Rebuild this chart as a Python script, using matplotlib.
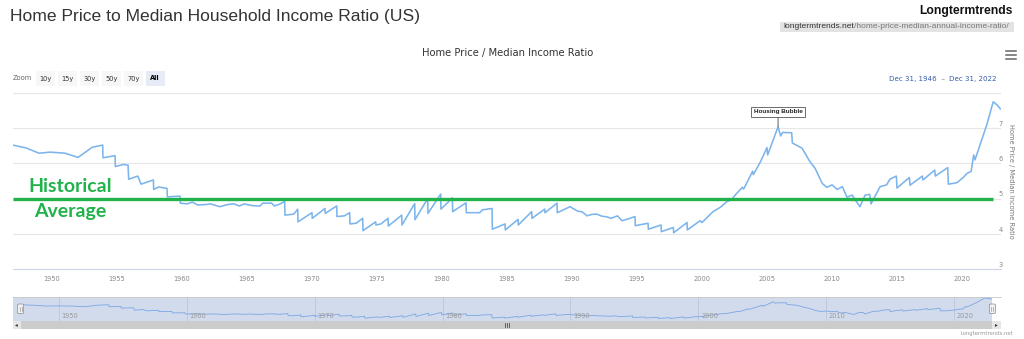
import matplotlib
matplotlib.use("Agg")
from matplotlib import pyplot as plt
from matplotlib.patches import Rectangle, FancyBboxPatch
from matplotlib.lines import Line2D
import numpy as np

W, H = 1024, 339

# home price / median income ratio, decimal years
years = [
    1947.0, 1948.0, 1949.0, 1949.85, 1951.0, 1952.0, 1953.1, 1953.9, 1953.92, 1954.85,
    1954.87, 1955.5, 1955.85, 1955.9, 1956.3, 1956.6, 1956.85, 1957.8, 1957.82, 1958.2,
    1958.85, 1958.87, 1959.85, 1959.87, 1960.4, 1960.8, 1961.2, 1961.8, 1962.2, 1962.9,
    1963.5, 1964.0, 1964.4, 1964.8, 1965.4, 1966.0, 1966.2, 1966.9, 1967.1, 1967.5,
    1967.9, 1967.92, 1968.6, 1968.9, 1968.92, 1970.0, 1970.02, 1971.0, 1971.02, 1971.9,
    1971.92, 1972.5, 1972.9, 1972.92, 1973.4, 1973.9, 1973.92, 1974.9, 1974.92, 1975.3,
    1975.85, 1975.87, 1976.9, 1976.92, 1977.9, 1977.92, 1978.9, 1978.92, 1979.9, 1979.92,
    1980.8, 1980.82, 1981.85, 1981.87, 1982.9, 1983.1, 1983.85, 1983.87, 1984.85, 1984.87,
    1985.85, 1985.87, 1986.9, 1986.92, 1987.9, 1987.92, 1988.85, 1988.87, 1989.85, 1990.4,
    1990.8, 1991.15, 1991.5, 1991.9, 1992.3, 1992.7, 1993.0, 1993.5, 1993.85, 1994.45,
    1994.85, 1994.87, 1995.85, 1995.87, 1996.85, 1996.87, 1997.8, 1997.82, 1998.85, 1998.87,
    1999.85, 2000.0, 2000.5, 2000.85, 2001.4, 2001.9, 2002.3, 2002.6, 2003.1, 2003.2,
    2003.9, 2003.95, 2004.5, 2005.0, 2005.05, 2005.85, 2006.05, 2006.2, 2006.9, 2006.95,
    2007.7, 2008.3, 2008.7, 2009.25, 2009.6, 2010.0, 2010.4, 2010.8, 2011.15, 2011.55,
    2011.75, 2012.15, 2012.55, 2012.9, 2013.0, 2013.7, 2014.2, 2014.45, 2014.95, 2015.0,
    2015.95, 2016.0, 2016.95, 2017.0, 2017.9, 2017.95, 2018.9, 2018.95, 2019.6, 2020.1,
    2020.4, 2020.7, 2020.9, 2021.0, 2021.55, 2021.9, 2022.4, 2022.7, 2022.95,
]
ratio = [
    6.52, 6.44, 6.29, 6.32, 6.29, 6.17, 6.46, 6.52, 6.16, 6.22,
    5.91, 5.97, 5.95, 5.55, 5.60, 5.64, 5.41, 5.53, 5.26, 5.33,
    5.29, 5.05, 5.07, 4.87, 4.85, 4.90, 4.82, 4.83, 4.85, 4.77,
    4.83, 4.85, 4.79, 4.85, 4.80, 4.79, 4.87, 4.87, 4.79, 4.84,
    4.92, 4.53, 4.56, 4.70, 4.34, 4.60, 4.44, 4.72, 4.58, 4.79,
    4.49, 4.51, 4.60, 4.28, 4.30, 4.44, 4.09, 4.34, 4.25, 4.28,
    4.44, 4.22, 4.53, 4.25, 4.86, 4.40, 5.00, 4.58, 5.13, 4.70,
    5.02, 4.63, 4.88, 4.60, 4.60, 4.68, 4.72, 4.13, 4.28, 4.11,
    4.41, 4.25, 4.63, 4.44, 4.70, 4.60, 4.87, 4.60, 4.77, 4.65,
    4.62, 4.51, 4.55, 4.56, 4.50, 4.48, 4.44, 4.51, 4.37, 4.44,
    4.49, 4.23, 4.30, 4.13, 4.25, 4.06, 4.18, 4.03, 4.32, 4.11,
    4.37, 4.32, 4.50, 4.63, 4.75, 4.91, 4.98, 5.12, 5.32, 5.27,
    5.78, 5.68, 6.05, 6.45, 6.24, 7.04, 6.78, 6.88, 6.87, 6.58,
    6.43, 6.05, 5.86, 5.43, 5.32, 5.39, 5.26, 5.34, 5.04, 5.10,
    4.98, 4.77, 5.10, 5.12, 4.85, 5.34, 5.39, 5.55, 5.64, 5.30,
    5.60, 5.38, 5.64, 5.53, 5.81, 5.64, 5.88, 5.41, 5.45, 5.60,
    5.72, 5.77, 6.24, 6.10, 6.71, 7.09, 7.75, 7.66, 7.55,
]

avg_ratio = 5.0
avg_span = [1947.0, 2022.4]

xtick_years = list(range(1950, 2021, 5))
ytick_values = [3, 4, 5, 6, 7]
nav_years = list(range(1950, 2021, 10))
zoom_buttons = ["10y", "15y", "30y", "50y", "70y", "All"]
date_from = "Dec 31, 1946"
date_to = "Dec 31, 2022"

LINE = "#7cb5ec"
GREEN = "#22b24c"
HC_FONT = "DejaVu Sans"


def fx(px):
    return px / W


def fy(py):
    return 1 - py / H


def box(x0, y0, x1, y1, color, z=-1):
    # rectangle given in pixel coordinates (y measured from the top)
    fig.add_artist(Rectangle((fx(x0), fy(y1)), fx(x1) - fx(x0), fy(y0) - fy(y1),
                             transform=fig.transFigure, fc=color, ec="none", zorder=z))


fig = plt.figure(figsize=(W / 100, H / 100), dpi=100)

# main chart
ax = fig.add_axes([fx(13), fy(269), fx(1001) - fx(13), fy(93) - fy(269)])
ax.plot(years, ratio, color=LINE, lw=1.15, zorder=3, solid_joinstyle="round")
ax.plot(avg_span, [avg_ratio, avg_ratio], color=GREEN, lw=2.4, zorder=4, solid_capstyle="butt")
ax.set_xlim(1947, 2023)
ax.set_ylim(3, 8)
for s in ["top", "left", "right"]:
    ax.spines[s].set_visible(False)
ax.spines["bottom"].set_color("#ccd6eb")
ax.spines["bottom"].set_linewidth(0.8)
ax.set_yticks([4, 5, 6, 7, 8])
ax.grid(axis="y", color="#e6e6e6", lw=0.8, zorder=0)
ax.tick_params(axis="y", length=0, labelleft=False)
ax.set_xticks(xtick_years)
ax.tick_params(axis="x", length=0, pad=5, labelsize=4.8, labelcolor="#888")
for lbl in ax.get_xticklabels():
    lbl.set_family(HC_FONT)

for v in ytick_values:
    ax.annotate(str(v), xy=(1.0, v), xycoords=("axes fraction", "data"),
                xytext=(1.5, 0.8), textcoords="offset points", ha="right", va="bottom",
                fontsize=4.8, color="#888", family=HC_FONT, annotation_clip=False)

fig.text(fx(1011), fy(181), "Home Price / Median Income Ratio", rotation=-90,
         ha="center", va="center", fontsize=4.8, color="#777", family=HC_FONT)

# housing bubble flag on the pre-2010 peak
pre = [i for i, y in enumerate(years) if y < 2010]
peak = max(pre, key=lambda i: ratio[i])
ax.annotate("Housing Bubble", xy=(years[peak], ratio[peak]), xytext=(0, 9),
            textcoords="offset points", ha="center", va="bottom",
            fontsize=4.6, fontweight="bold", family="Liberation Sans", color="#222",
            bbox=dict(boxstyle="square,pad=0.35", fc="white", ec="#555", lw=0.6),
            arrowprops=dict(arrowstyle="-", color="#444", lw=0.6, shrinkA=0, shrinkB=0),
            zorder=6)

fig.text(fx(70), fy(186), "Historical", ha="center", va="center",
         fontsize=14, fontweight="bold", family="Lato", color=GREEN)
fig.text(fx(70), fy(212), "Average", ha="center", va="center",
         fontsize=14, fontweight="bold", family="Lato", color=GREEN)

# page header
fig.text(fx(10), fy(17), "Home Price to Median Household Income Ratio (US)",
         ha="left", va="center", fontsize=12.6, family="Liberation Sans", color="#333")
fig.text(fx(1013), fy(11), "Longtermtrends", ha="right", va="center",
         fontsize=8.7, fontweight="bold", family="Liberation Sans", color="#111")
box(780, 22, 1014, 32, "#e3e3e3")
t1 = fig.text(fx(783), fy(27), "longtermtrends.net", ha="left", va="center",
              fontsize=6.0, family="Liberation Sans", color="#333")
ax.annotate("/home-price-median-annual-income-ratio/", xy=(1, 0.5), xycoords=t1,
            ha="left", va="center", fontsize=6.0, family="Liberation Sans", color="#777")

fig.text(fx(508), fy(53), "Home Price / Median Income Ratio", ha="center", va="center",
         fontsize=7.2, family=HC_FONT, color="#333")

for py in (51, 55, 59):
    fig.add_artist(Line2D([fx(1006), fx(1016)], [fy(py), fy(py)], color="#666", lw=1.1))

# range selector
fig.text(fx(13), fy(78.5), "Zoom", ha="left", va="center", fontsize=4.8,
         family=HC_FONT, color="#666")
for k, name in enumerate(zoom_buttons):
    x0 = 36 + k * 22
    sel = name == "All"
    box(x0, 71, x0 + 18.5, 86, "#e6ebf5" if sel else "#f7f7f7")
    fig.text(fx(x0 + 9.25), fy(78.5), name, ha="center", va="center", fontsize=4.8,
             family=HC_FONT, color="#000" if sel else "#333",
             fontweight="bold" if sel else "normal")

d1 = fig.text(fx(889), fy(79), date_from, ha="left", va="center", fontsize=5.1,
              family=HC_FONT, color="#335cad")
d2 = ax.annotate("  \u2013  ", xy=(1, 0.5), xycoords=d1, ha="left", va="center",
                 fontsize=5.1, family=HC_FONT, color="#666")
ax.annotate(date_to, xy=(1, 0.5), xycoords=d2, ha="left", va="center",
            fontsize=5.1, family=HC_FONT, color="#335cad")

# navigator
box(13, 297, 992, 321, "#d2dbec")
fig.add_artist(Line2D([fx(13), fx(1001)], [fy(297), fy(297)], color="#c8c8c8", lw=0.6))
nav = fig.add_axes([fx(20.6), fy(321), fx(992.4) - fx(20.6), fy(297) - fy(321)])
nav.patch.set_alpha(0)
nav.plot(years, ratio, color="#7aa6e4", lw=0.6)
nav.set_xlim(1947, 2023)
nav.set_ylim(3.58, 7.93)
nav.set_xticks(nav_years)
nav.grid(axis="x", color="#bcc6da", lw=0.6)
nav.tick_params(length=0, labelbottom=False, labelleft=False)
for s in nav.spines.values():
    s.set_visible(False)
for yr in nav_years:
    nav.annotate(str(yr), xy=(yr, 0), xycoords=("data", "axes fraction"),
                 xytext=(2, 1.5), textcoords="offset points", ha="left", va="bottom",
                 fontsize=4.8, color="#999", family=HC_FONT)

for cx in (20.6, 992.4):
    fig.add_artist(FancyBboxPatch((fx(cx - 3), fy(313.5)), fx(6), fy(304) - fy(313.5),
                                  boxstyle="round,pad=0,rounding_size=0.002",
                                  transform=fig.transFigure, fc="#f2f2f2", ec="#999",
                                  lw=0.6, zorder=3))
    for dx in (-1, 1):
        fig.add_artist(Line2D([fx(cx + dx), fx(cx + dx)], [fy(306.5), fy(311)],
                              color="#999", lw=0.5, zorder=4))

# scrollbar
box(13, 321, 1001, 329, "#f2f2f2", z=1)
box(20.6, 321, 992.4, 329, "#cccccc", z=1.1)
box(13, 321, 20.6, 329, "#e6e6e6", z=1.1)
box(992.4, 321, 1001, 329, "#e6e6e6", z=1.1)
fig.text(fx(16.8), fy(325), "\u25c2", ha="center", va="center", fontsize=4, color="#333")
fig.text(fx(996.7), fy(325), "\u25b8", ha="center", va="center", fontsize=4, color="#333")
for dx in (-2, 0, 2):
    fig.add_artist(Line2D([fx(506.5 + dx), fx(506.5 + dx)], [fy(323), fy(327)],
                          color="#333", lw=0.5, zorder=2))

fig.text(fx(1013), fy(334), "Longtermtrends.net", ha="right", va="center",
         fontsize=3.8, family=HC_FONT, color="#999")

fig.savefig("out.png", dpi=100)
